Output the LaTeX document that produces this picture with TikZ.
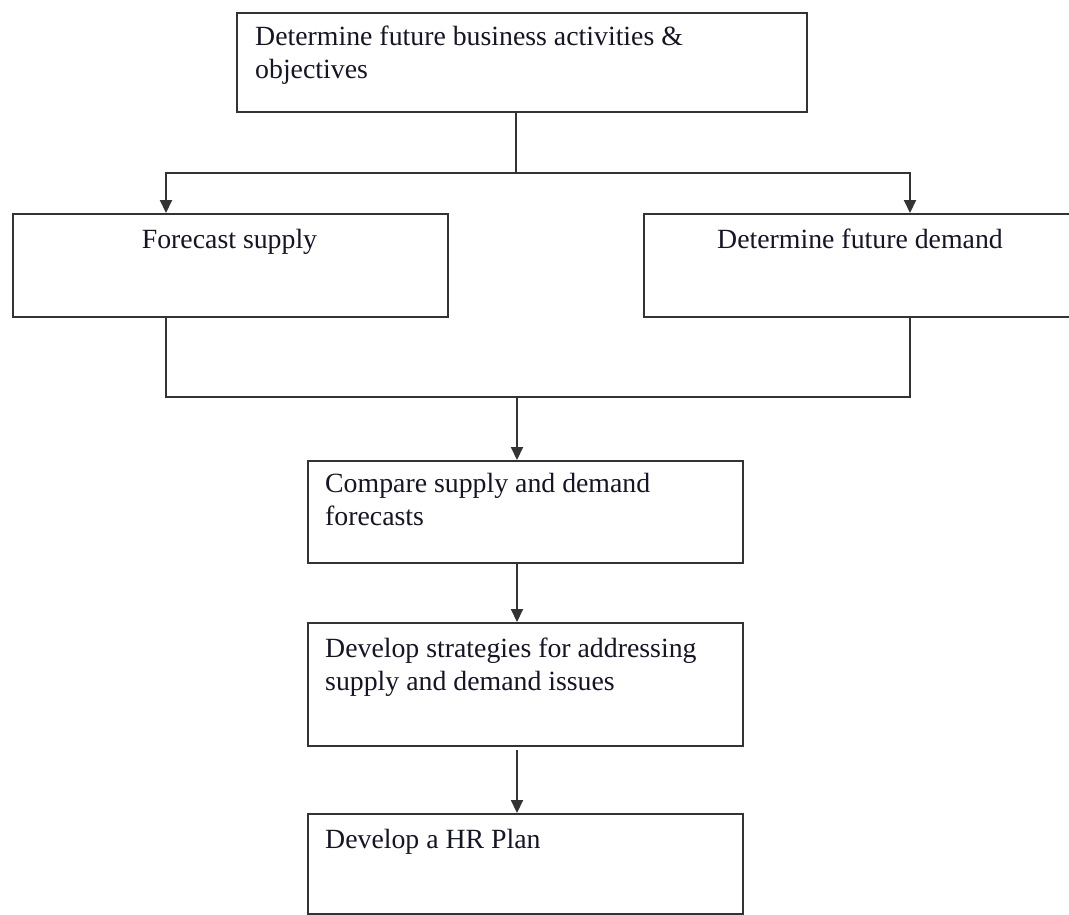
\documentclass[tikz,border=0pt]{standalone}
\usepackage{fontspec}
\setmainfont{Liberation Serif}
\usetikzlibrary{arrows.meta}
\definecolor{edge}{HTML}{333333}
\definecolor{ink}{HTML}{151525}
\tikzset{
  box/.style={draw=edge, line width=2pt, rectangle, inner sep=0pt, anchor=north west},
  lbl/.style={text=ink, inner sep=0pt, align=left, font=\fontsize{27.8}{33}\selectfont},
  link/.style={draw=edge, line width=2pt},
  arr/.style={link, -{Triangle[length=13pt, width=12pt]}}
}
\begin{document}
\begin{tikzpicture}[x=1pt, y=-1pt]
  \fill[white] (0,0) rectangle (1069,914);
  \clip (0,0) rectangle (1069,914);

  % process boxes
  \node[box, minimum width=570pt, minimum height=99pt]  (goals)    at (236,12)  {};
  \node[box, minimum width=435pt, minimum height=103pt] (supply)   at (12,213)  {};
  \node[box, minimum width=435pt, minimum height=103pt] (demand)   at (643,213) {};
  \node[box, minimum width=435pt, minimum height=102pt] (compare)  at (307,460) {};
  \node[box, minimum width=435pt, minimum height=123pt] (strategy) at (307,622) {};
  \node[box, minimum width=435pt, minimum height=100pt] (plan)     at (307,813) {};

  % box texts (base anchor sits on the last line)
  \node[lbl, anchor=base west] (tgoals) at (255,78) {Determine future business activities \&\\objectives};
  \node[lbl, anchor=base] (tsupply) at (229.5,248) {Forecast supply};
  \node[lbl, anchor=base] (tdemand) at (860,248) {Determine future demand};
  \node[lbl, anchor=base west] (tcompare) at (325,525) {Compare supply and demand\\forecasts};
  \node[lbl, anchor=base west] (tstrategy) at (325,690) {Develop strategies for addressing\\supply and demand issues};
  \node[lbl, anchor=base west] (tplan) at (325,848) {Develop a HR Plan};

  % junction points of the connectors
  \coordinate (split) at (516,173);
  \coordinate (lx) at (166,0);
  \coordinate (rx) at (910,0);
  \coordinate (join) at (517,397);

  % split towards supply and demand
  \draw[link] (goals.south -| split) -- (split);
  \draw[arr] (split) -| (supply.north -| lx);
  \draw[arr] (split) -| (demand.north -| rx);

  % merge into comparison
  \draw[link] (supply.south -| lx) |- (join) -| (demand.south -| rx);
  \draw[arr] (join) -- (compare.north -| join);

  % main chain
  \draw[arr] (compare.south -| join) -- (strategy.north -| join);
  \draw[arr] ([yshift=-3pt]strategy.south -| join) -- (plan.north -| join);
\end{tikzpicture}
\end{document}
